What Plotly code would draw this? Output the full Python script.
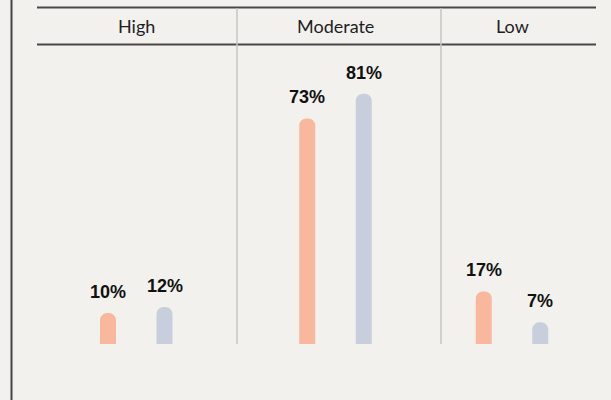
import plotly.graph_objects as go

categories = ["High", "Moderate", "Low"]
series_a = [10, 73, 17]   # orange series
series_b = [12, 81, 7]    # blue-grey series
labels_a = ["10%", "73%", "17%"]
labels_b = ["12%", "81%", "7%"]

W, H = 611, 400
BG = "#F2F1ED"
ORANGE = "#F9B89E"
BLUE = "#C9CEDC"

# pixel geometry of the columns (layout only)
col_edges = [37, 237, 441, 596]
group_mid = [136.25, 335.5, 512]
U = 200.0  # px per category unit

fig = go.Figure()
axis_names = ["", "2", "3"]
for i, cat in enumerate(categories):
    ax = axis_names[i]
    fig.add_trace(go.Bar(x=[cat], y=[series_a[i]], marker_color=ORANGE,
                         xaxis="x" + ax, yaxis="y" + ax, showlegend=False,
                         hoverinfo="skip", marker_line_width=0))
    fig.add_trace(go.Bar(x=[cat], y=[series_b[i]], marker_color=BLUE,
                         xaxis="x" + ax, yaxis="y" + ax, showlegend=False,
                         hoverinfo="skip", marker_line_width=0))

y_bottom = (H - 344) / H
y_top = (H - 44) / H
y_max = 300 / 3.09

layout = dict(
    width=W, height=H,
    margin=dict(l=0, r=0, t=0, b=0),
    paper_bgcolor=BG, plot_bgcolor=BG,
    barmode="group", bargap=0.435, bargroupgap=0.717,
    barcornerradius=8,
    showlegend=False,
)
for i in range(3):
    ax = axis_names[i]
    x0, x1 = col_edges[i], col_edges[i + 1]
    mid = group_mid[i]
    layout["xaxis" + ax] = dict(
        domain=[x0 / W, x1 / W],
        range=[(x0 - mid) / U, (x1 - mid) / U],
        visible=False, anchor="y" + ax, fixedrange=True,
    )
    layout["yaxis" + ax] = dict(
        domain=[y_bottom, y_top], range=[0, y_max],
        visible=False, anchor="x" + ax, fixedrange=True,
    )
fig.update_layout(**layout)

annotations = []
for i, cat in enumerate(categories):
    ax = axis_names[i]
    annotations.append(dict(
        xref="x" + ax, yref="paper", x=cat, y=(H - 26) / H,
        text=cat, showarrow=False, xanchor="center", yanchor="middle",
        font=dict(family="Lato", size=18, color="#1E1E1E"),
    ))
    for val, lab, sh in [(series_a[i], labels_a[i], -28.25), (series_b[i], labels_b[i], 28.25)]:
        annotations.append(dict(
            xref="x" + ax, yref="y" + ax, x=cat, y=val, xshift=sh, yshift=9,
            text="<b>" + lab + "</b>", showarrow=False,
            xanchor="center", yanchor="bottom",
            font=dict(family="Liberation Sans", size=18, color="#111111"),
        ))
fig.update_layout(annotations=annotations)

shapes = [
    dict(type="line", xref="paper", yref="paper", x0=11.5 / W, x1=11.5 / W, y0=0, y1=1,
         line=dict(color="#444444", width=2)),
    dict(type="line", xref="paper", yref="paper", x0=37 / W, x1=596 / W,
         y0=(H - 7.5) / H, y1=(H - 7.5) / H, line=dict(color="#484848", width=2)),
    dict(type="line", xref="paper", yref="paper", x0=37 / W, x1=596 / W,
         y0=(H - 44.5) / H, y1=(H - 44.5) / H, line=dict(color="#484848", width=2)),
]
for xe in col_edges[1:3]:
    shapes.append(dict(type="line", xref="paper", yref="paper", x0=xe / W, x1=xe / W,
                       y0=(H - 344) / H, y1=(H - 8) / H,
                       line=dict(color="#C4C4C4", width=1.5)))
fig.update_layout(shapes=shapes)

fig.write_html("out.html")
